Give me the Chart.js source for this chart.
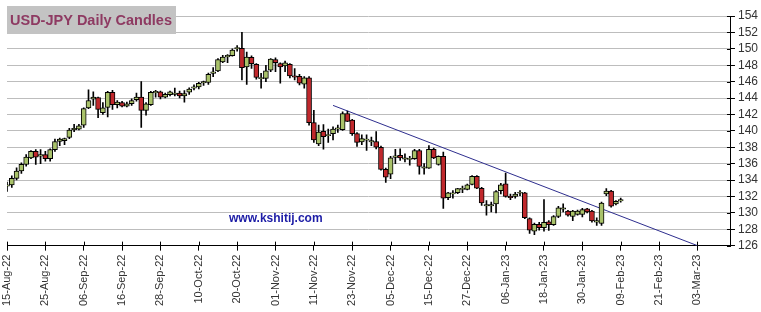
<!DOCTYPE html>
<html>
<head>
<meta charset="utf-8">
<script src="https://cdn.jsdelivr.net/npm/chart.js@4/dist/chart.umd.min.js"></script>
<style>
    html, body { margin: 0; padding: 0; background: #fff; }
    #wrap { width: 761px; height: 312px; position: relative; }
</style>
</head>
<body>
<div id="wrap"><canvas id="candleChart"></canvas></div>
<script>
// Tick labels shown under the axis (every 8th trading day)
const tickLabels = ['15-Aug-22', '25-Aug-22', '06-Sep-22', '16-Sep-22', '28-Sep-22', '10-Oct-22', '20-Oct-22',
    '01-Nov-22', '11-Nov-22', '23-Nov-22', '05-Dec-22', '15-Dec-22', '27-Dec-22', '06-Jan-23', '18-Jan-23',
    '30-Jan-23', '09-Feb-23', '21-Feb-23', '03-Mar-23'];

// Daily OHLC, one value per weekday from 15-Aug-22 to 09-Feb-23
const openPrices = [
    133.25, 133.4, 134.2, 135.1, 135.9, 136.7, 137.5, 136.9, 137.1, 136.6,
    137.7, 138.7, 138.8, 139.2, 140.15, 140.2, 140.7, 142.8, 143.85, 144.05,
    142.2, 142.85, 144.7, 143.2, 143.45, 143.0, 143.3, 143.8, 144.1, 142.5,
    143.2, 144.65, 144.75, 144.1, 144.4, 144.45, 144.6, 144.25, 144.7, 145.2,
    145.35, 145.85, 145.9, 147.0, 147.3, 148.4, 149.0, 149.15, 150.0, 150.05,
    147.8, 148.95, 148.1, 146.35, 146.4, 147.4, 148.7, 148.2, 147.9, 148.1,
    146.7, 146.65, 145.7, 146.45, 141.0, 138.4, 139.95, 139.4, 139.65, 140.2,
    140.15, 142.1, 141.3, 139.65, 138.65, 138.85, 138.65, 138.7, 138.0, 135.3,
    134.7, 136.75, 137.0, 136.55, 136.5, 136.6, 137.6, 135.45, 135.45, 137.75,
    135.9, 136.9, 131.85, 132.3, 132.45, 132.85, 132.85, 133.45, 134.45, 133.0,
    130.85, 130.85, 131.1, 132.7, 133.55, 132.0, 132.0, 132.4, 132.45, 129.3,
    127.75, 128.6, 128.2, 128.9, 128.55, 129.55, 130.45, 130.2, 129.55, 129.8,
    129.8, 130.5, 130.2, 128.85, 128.7, 132.3, 132.65, 131.1, 131.45
];
const highPrices = [
    133.75, 134.5, 135.5, 136.1, 137.1, 137.6, 137.7, 137.7, 137.5, 137.8,
    139.0, 139.1, 139.1, 140.3, 140.8, 140.8, 142.8, 145.0, 144.75, 144.1,
    143.45, 144.8, 144.95, 143.7, 143.6, 143.5, 143.9, 144.6, 146.0, 143.45,
    144.8, 144.95, 144.85, 144.6, 144.85, 145.2, 144.85, 144.9, 145.25, 145.6,
    145.9, 146.05, 147.05, 147.7, 148.8, 149.2, 149.3, 150.0, 150.4, 152.0,
    149.6, 149.15, 148.2, 147.0, 148.0, 148.8, 148.9, 148.3, 148.5, 148.2,
    147.6, 146.9, 146.6, 146.6, 142.5, 140.7, 140.75, 140.2, 140.5, 140.7,
    142.3, 142.4, 141.4, 139.8, 139.5, 139.5, 139.25, 139.9, 138.15, 135.45,
    136.9, 137.75, 137.8, 137.2, 136.9, 137.75, 137.75, 136.0, 138.2, 137.9,
    136.95, 137.4, 132.5, 132.7, 133.0, 133.25, 133.5, 134.55, 134.55, 133.1,
    131.5, 131.3, 132.7, 133.6, 134.85, 132.3, 132.5, 132.7, 132.5, 129.4,
    128.75, 128.85, 131.6, 129.05, 129.67, 130.8, 131.1, 130.3, 130.3, 130.35,
    130.55, 130.55, 130.3, 129.4, 131.3, 132.95, 132.75, 131.5, 131.8
];
const lowPrices = [
    132.6, 133.1, 134.0, 134.8, 135.7, 136.6, 135.9, 136.0, 136.3, 136.3,
    137.5, 138.2, 138.3, 139.05, 139.9, 140.1, 140.4, 142.7, 143.1, 141.6,
    142.0, 141.7, 142.6, 142.8, 142.9, 142.9, 143.1, 143.6, 140.4, 141.9,
    143.1, 144.1, 143.9, 144.0, 144.25, 144.25, 144.0, 143.5, 144.45, 145.0,
    145.1, 145.55, 145.65, 146.6, 147.2, 148.3, 148.3, 149.1, 149.7, 146.2,
    145.65, 147.6, 146.3, 145.2, 146.0, 147.2, 147.2, 145.8, 147.2, 146.45,
    146.2, 145.6, 145.2, 140.7, 138.6, 138.2, 137.75, 138.6, 138.9, 139.8,
    140.05, 141.1, 139.45, 138.1, 138.3, 137.6, 138.2, 137.8, 135.2, 133.7,
    134.15, 136.0, 136.4, 136.2, 135.8, 136.5, 134.7, 134.7, 135.4, 136.6,
    135.8, 130.55, 131.6, 131.8, 132.35, 132.45, 132.8, 133.4, 132.95, 130.9,
    129.7, 130.1, 130.0, 132.3, 131.9, 131.6, 131.8, 132.1, 129.3, 127.5,
    127.35, 127.9, 127.75, 127.85, 128.45, 129.4, 130.1, 129.6, 129.05, 129.7,
    129.5, 130.0, 128.85, 128.45, 128.45, 132.1, 130.7, 130.95, 131.3
];
const closePrices = [
    133.4, 134.2, 135.1, 135.9, 136.8, 137.5, 136.8, 137.1, 136.6, 137.7,
    138.7, 139.0, 139.05, 140.1, 140.3, 140.6, 142.7, 143.7, 144.1, 142.6,
    142.8, 144.7, 143.2, 143.5, 143.0, 143.3, 143.7, 144.1, 142.5, 143.3,
    144.7, 144.8, 144.1, 144.45, 144.75, 144.6, 144.25, 144.55, 145.1, 145.35,
    145.8, 146.0, 146.9, 147.2, 148.7, 149.0, 149.2, 149.85, 150.15, 147.7,
    149.0, 148.2, 146.5, 146.5, 147.3, 148.75, 148.3, 147.8, 148.3, 146.7,
    146.55, 145.8, 146.45, 141.0, 138.9, 139.85, 139.3, 139.55, 140.2, 140.35,
    142.1, 141.15, 139.65, 138.6, 139.05, 139.0, 138.8, 138.0, 135.3, 134.35,
    136.7, 136.95, 136.7, 136.7, 136.65, 137.6, 135.65, 135.6, 137.75, 136.7,
    136.9, 131.8, 132.45, 132.45, 132.95, 133.0, 133.4, 134.45, 133.0, 131.2,
    131.0, 131.0, 132.6, 133.4, 132.0, 131.85, 132.3, 132.5, 129.4, 127.9,
    128.6, 128.2, 128.85, 128.55, 129.55, 130.6, 130.6, 129.7, 130.2, 130.2,
    130.4, 130.1, 129.0, 129.05, 131.2, 132.65, 130.8, 131.4, 131.6
];

// Trend line drawn across the highs
const trendDates = ['17-Nov-22', '03-Mar-23'];
const trendValues = [143.1, 126];

const MONTHS = ['Jan', 'Feb', 'Mar', 'Apr', 'May', 'Jun', 'Jul', 'Aug', 'Sep', 'Oct', 'Nov', 'Dec'];

// Build list of weekdays, formatted like 15-Aug-22
function weekdayLabels(year, month, day, count) {
    const out = [];
    const d = new Date(Date.UTC(year, month, day));
    while (out.length < count) {
        const wd = d.getUTCDay();
        if (wd !== 0 && wd !== 6) {
            const dd = String(d.getUTCDate()).padStart(2, '0');
            const yy = String(d.getUTCFullYear()).slice(2);
            out.push(dd + '-' + MONTHS[d.getUTCMonth()] + '-' + yy);
        }
        d.setUTCDate(d.getUTCDate() + 1);
    }
    return out;
}

const categories = weekdayLabels(2022, 7, 15, 152);

const UP_COLOR = '#a9c26a';
const DOWN_COLOR = '#c0282c';

const bodies = openPrices.map((o, i) => [o, closePrices[i]]);
const wicks = lowPrices.map((l, i) => [l, highPrices[i]]);
const bodyColors = openPrices.map((o, i) => closePrices[i] >= o ? UP_COLOR : DOWN_COLOR);

function isTickLabel(index) {
    return tickLabels.includes(categories[index]);
}

// Title box, watermark and the inner half of the axis ticks
const decorPlugin = {
    id: 'decor',
    afterDraw(chart) {
        const ctx = chart.ctx;
        const xs = chart.scales.x;
        const ys = chart.scales.y;
        ctx.save();
        ctx.strokeStyle = '#000';
        ctx.lineWidth = 1;
        ctx.beginPath();
        categories.forEach((c, i) => {
            if (!isTickLabel(i)) return;
            const px = Math.round(xs.getPixelForValue(i)) + 0.5;
            ctx.moveTo(px, ys.bottom - 4);
            ctx.lineTo(px, ys.bottom);
        });
        ys.ticks.forEach((t, i) => {
            const py = Math.round(ys.getPixelForTick(i)) + 0.5;
            ctx.moveTo(xs.right - 4, py);
            ctx.lineTo(xs.right, py);
        });
        ctx.stroke();

        ctx.fillStyle = '#c3c3c3';
        ctx.fillRect(7, 6, 169, 28);
        ctx.fillStyle = '#8e3a62';
        ctx.font = 'bold 14.5px "Liberation Sans", Arial, sans-serif';
        ctx.textBaseline = 'alphabetic';
        ctx.fillText('USD-JPY Daily Candles', 10, 25);

        ctx.fillStyle = '#1c1ca6';
        ctx.font = 'bold 12px "Liberation Sans", Arial, sans-serif';
        ctx.fillText('www.kshitij.com', 229, 222);
        ctx.restore();
    }
};

const chart = new Chart(document.getElementById('candleChart').getContext('2d'), {
    type: 'bar',
    data: {
        labels: categories,
        datasets: [
            {
                type: 'line',
                label: 'Trend',
                data: trendDates.map((d, i) => ({ x: d, y: trendValues[i] })),
                borderColor: '#2e2e8e',
                borderWidth: 1,
                pointRadius: 0,
                fill: false,
                order: 3
            },
            {
                label: 'Wick',
                data: wicks,
                backgroundColor: '#000',
                barThickness: 1,
                grouped: false,
                order: 2
            },
            {
                label: 'Body',
                data: bodies,
                backgroundColor: bodyColors,
                borderColor: '#000',
                borderWidth: 1,
                borderSkipped: false,
                barThickness: 5,
                grouped: false,
                order: 1
            }
        ]
    },
    options: {
        responsive: true,
        maintainAspectRatio: false,
        animation: false,
        layout: {
            padding: { left: 7, right: 0, top: 16, bottom: 2 }
        },
        plugins: {
            legend: { display: false },
            tooltip: { enabled: false }
        },
        scales: {
            x: {
                offset: false,
                grid: {
                    offset: false,
                    drawOnChartArea: false,
                    tickLength: 5,
                    tickColor: ctx => isTickLabel(ctx.index) ? '#000' : 'rgba(0,0,0,0)'
                },
                border: { display: true, color: '#000' },
                ticks: {
                    autoSkip: false,
                    minRotation: 90,
                    maxRotation: 90,
                    padding: 4,
                    color: '#333',
                    font: { family: '"Liberation Sans", Arial, sans-serif', size: 11 },
                    callback: function(value, index) {
                        return isTickLabel(index) ? categories[index] : '';
                    }
                }
            },
            y: {
                position: 'right',
                min: 126,
                max: 154,
                grid: {
                    color: '#bdbdbd',
                    tickColor: '#000',
                    tickLength: 4
                },
                border: { display: true, color: '#000' },
                ticks: {
                    stepSize: 2,
                    autoSkip: false,
                    padding: 3,
                    color: '#333',
                    font: { family: '"Liberation Sans", Arial, sans-serif', size: 12 }
                }
            }
        }
    },
    plugins: [decorPlugin]
});
</script>
</body>
</html>
